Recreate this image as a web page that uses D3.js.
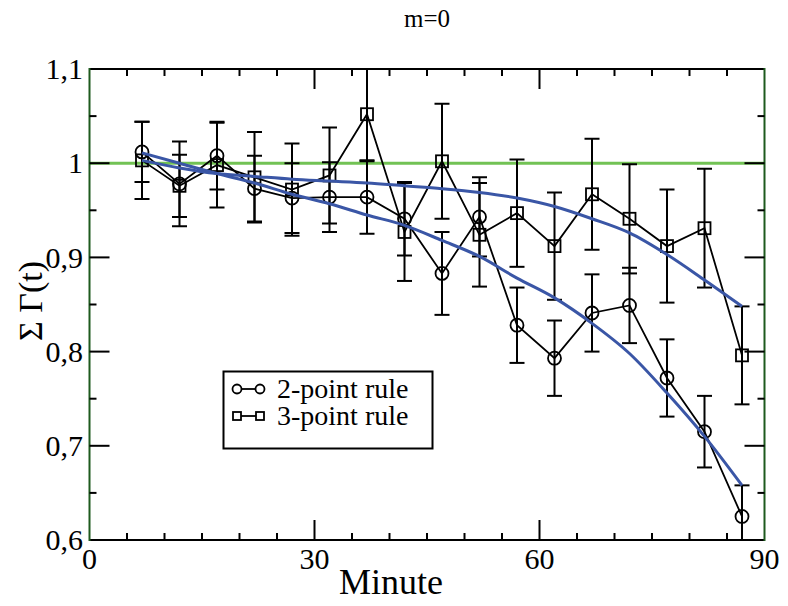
<!DOCTYPE html>
<html>
<head>
<meta charset="utf-8">
<script src="https://cdn.jsdelivr.net/npm/d3@7"></script>
<style>
	body { margin: 0; background: #fff; }
</style>
</head>
<body>
<div id="chart"></div>
<script>
const minutes = [7, 12, 17, 22, 27, 32, 37, 42, 47, 52, 57, 62, 67, 72, 77, 82, 87];

const rule2 = [1.012, 0.978, 1.008, 0.973, 0.963, 0.964, 0.964, 0.941, 0.883, 0.943, 0.828, 0.793, 0.841, 0.849, 0.772, 0.715, 0.625];
const err2 = [0.032, 0.045, 0.036, 0.035, 0.037, 0.037, 0.039, 0.039, 0.044, 0.042, 0.040, 0.040, 0.041, 0.040, 0.041, 0.038, 0.033];

const rule3 = [1.003, 0.976, 0.998, 0.985, 0.972, 0.987, 1.052, 0.927, 1.002, 0.924, 0.947, 0.912, 0.967, 0.941, 0.912, 0.931, 0.796];
const err3 = [0.041, 0.033, 0.045, 0.048, 0.049, 0.051, 0.050, 0.052, 0.061, 0.055, 0.057, 0.057, 0.059, 0.058, 0.060, 0.063, 0.052];

// fitted curves (blue)
const fit2 = [1.011, 1.000, 0.989, 0.979, 0.967, 0.957, 0.945, 0.934, 0.918, 0.901, 0.878, 0.857, 0.830, 0.798, 0.756, 0.710, 0.658];
const fit3 = [1.003, 0.995, 0.989, 0.986, 0.983, 0.981, 0.979, 0.976, 0.973, 0.969, 0.963, 0.954, 0.941, 0.926, 0.903, 0.876, 0.848];

const refLine = [1, 1];
const refX = [0, 90];

const xTicks = [0, 30, 60, 90];
const xTickLabels = ["0", "30", "60", "90"];
const yTicks = [0.6, 0.7, 0.8, 0.9, 1.0, 1.1];
const yTickLabels = ["0,6", "0,7", "0,8", "0,9", "1", "1,1"];

const legendLabels = ["2-point rule", "3-point rule"];

const W = 788, H = 606;
const pL = 89.5, pR = 764.5, pT = 69, pB = 540;
const serif = "'Liberation Serif', 'Times New Roman', Tinos, 'DejaVu Serif', serif";

const svg = d3.select("#chart").append("svg")
	.attr("width", W)
	.attr("height", H)
	.attr("font-family", serif)

const x = d3.scaleLinear().domain([0, 90]).range([pL, pR]);
const y = d3.scaleLinear().domain([0.6, 1.1]).range([pB, pT]);

svg.append("clipPath").attr("id", "plot-clip")
	.append("rect")
	.attr("x", pL).attr("y", pT)
	.attr("width", pR - pL).attr("height", pB - pT)

const plot = svg.append("g").attr("clip-path", "url(#plot-clip)");

// green reference line at 1
plot.append("path")
	.datum(refX.map((d, i) => [d, refLine[i]]))
	.attr("d", d3.line().x(d => x(d[0])).y(d => y(d[1])))
	.attr("stroke", "#72c254")
	.attr("stroke-width", 3)
	.attr("fill", "none")

function drawSeries(vals, errs, shape) {
	const pts = minutes.map((m, i) => ({ m: m, v: vals[i], e: errs[i] }));

	const bars = plot.append("g")
	bars.selectAll("line.bar")
		.data(pts).enter().append("line")
		.attr("class", "bar")
		.attr("x1", d => x(d.m)).attr("x2", d => x(d.m))
		.attr("y1", d => y(d.v + d.e)).attr("y2", d => y(d.v - d.e))
		.attr("stroke", "#000").attr("stroke-width", 2)
	const caps = [];
	pts.forEach(d => { caps.push({ m: d.m, v: d.v + d.e }); caps.push({ m: d.m, v: d.v - d.e }); });
	bars.selectAll("line.cap")
		.data(caps).enter().append("line")
		.attr("class", "cap")
		.attr("x1", d => x(d.m) - 7.5).attr("x2", d => x(d.m) + 7.5)
		.attr("y1", d => y(d.v)).attr("y2", d => y(d.v))
		.attr("stroke", "#000").attr("stroke-width", 2)

	plot.append("path")
		.datum(pts)
		.attr("d", d3.line().x(d => x(d.m)).y(d => y(d.v)))
		.attr("stroke", "#000").attr("stroke-width", 1.8)
		.attr("fill", "none")

	if (shape === "circle") {
		plot.selectAll(null)
			.data(pts).enter().append("circle")
			.attr("cx", d => x(d.m)).attr("cy", d => y(d.v))
			.attr("r", 6.5)
			.attr("fill", "none").attr("stroke", "#000").attr("stroke-width", 1.8)
	} else {
		plot.selectAll(null)
			.data(pts).enter().append("rect")
			.attr("x", d => x(d.m) - 6).attr("y", d => y(d.v) - 6)
			.attr("width", 12).attr("height", 12)
			.attr("fill", "none").attr("stroke", "#000").attr("stroke-width", 1.8)
	}
}

drawSeries(rule3, err3, "square");
drawSeries(rule2, err2, "circle");

// fits
const fitLine = d3.line().curve(d3.curveMonotoneX).x((d, i) => x(minutes[i])).y(d => y(d));
[fit2, fit3].forEach(f => {
	plot.append("path")
		.datum(f)
		.attr("d", fitLine)
		.attr("stroke", "#3a56a6")
		.attr("stroke-width", 3)
		.attr("fill", "none")
})

// frame: top/bottom black, left/right dark green
svg.append("line").attr("x1", pL).attr("x2", pR).attr("y1", pT).attr("y2", pT)
	.attr("stroke", "#000").attr("stroke-width", 2)
svg.append("line").attr("x1", pL).attr("x2", pR).attr("y1", pB).attr("y2", pB)
	.attr("stroke", "#000").attr("stroke-width", 2)
svg.append("line").attr("x1", pL).attr("x2", pL).attr("y1", pT - 1).attr("y2", pB + 1)
	.attr("stroke", "#1e5a1e").attr("stroke-width", 2)
svg.append("line").attr("x1", pR).attr("x2", pR).attr("y1", pT - 1).attr("y2", pB + 1)
	.attr("stroke", "#1e5a1e").attr("stroke-width", 2)

// ticks (inward, mirrored)
const xMinor = d3.range(0, 91, 5).filter(v => !xTicks.includes(v));
const yMinor = d3.range(0.65, 1.1, 0.1);

const tickG = svg.append("g").attr("stroke", "#000").attr("stroke-width", 2)
function xTick(vals, len) {
	tickG.selectAll(null).data(vals).enter().append("line")
		.attr("x1", d => x(d)).attr("x2", d => x(d))
		.attr("y1", pB).attr("y2", pB - len)
	tickG.selectAll(null).data(vals).enter().append("line")
		.attr("x1", d => x(d)).attr("x2", d => x(d))
		.attr("y1", pT).attr("y2", pT + len)
}
function yTick(vals, len) {
	tickG.selectAll(null).data(vals).enter().append("line")
		.attr("x1", pL).attr("x2", pL + len)
		.attr("y1", d => y(d)).attr("y2", d => y(d))
	tickG.selectAll(null).data(vals).enter().append("line")
		.attr("x1", pR).attr("x2", pR - len)
		.attr("y1", d => y(d)).attr("y2", d => y(d))
}
xTick(xTicks.slice(1, -1), 20)
xTick(xMinor, 7)
yTick(yTicks.slice(1, -1), 20)
yTick(yMinor, 7)

// tick labels
svg.selectAll("text.xlab")
	.data(xTicks).enter().append("text")
	.attr("class", "xlab")
	.attr("x", d => x(d)).attr("y", 569)
	.attr("text-anchor", "middle")
	.attr("font-family", serif)
	.attr("font-size", 30)
	.text((d, i) => xTickLabels[i])

svg.selectAll("text.ylab")
	.data(yTicks).enter().append("text")
	.attr("class", "ylab")
	.attr("x", 83).attr("y", d => y(d))
	.attr("dy", "0.34em")
	.attr("text-anchor", "end")
	.attr("font-family", serif)
	.attr("font-size", 30)
	.text((d, i) => yTickLabels[i])

// titles
svg.append("text")
	.attr("x", (pL + pR) / 2).attr("y", 27)
	.attr("text-anchor", "middle")
	.attr("font-family", serif)
	.attr("font-size", 25)
	.text("m=0")

svg.append("text")
	.attr("x", 391).attr("y", 594)
	.attr("text-anchor", "middle")
	.attr("font-family", serif)
	.attr("font-size", 36)
	.text("Minute")

svg.append("text")
	.attr("transform", "translate(42,301) rotate(-90)")
	.attr("text-anchor", "middle")
	.attr("font-family", serif)
	.attr("font-size", 34)
	.text("Σ Γ(t)")

// legend
const lg = svg.append("g")
lg.append("rect")
	.attr("x", 223.5).attr("y", 371.5)
	.attr("width", 209).attr("height", 77)
	.attr("fill", "#fff").attr("stroke", "#000").attr("stroke-width", 2)

legendLabels.forEach((label, i) => {
	const cy = 389 + i * 27;
	lg.append("line")
		.attr("x1", 237).attr("x2", 260).attr("y1", cy).attr("y2", cy)
		.attr("stroke", "#000").attr("stroke-width", 1.8)
	;[237, 260].forEach(cx => {
		if (i === 0) {
			lg.append("circle").attr("cx", cx).attr("cy", cy).attr("r", 4.5)
				.attr("fill", "#fff").attr("stroke", "#000").attr("stroke-width", 1.8)
		} else {
			lg.append("rect").attr("x", cx - 4).attr("y", cy - 4).attr("width", 8).attr("height", 8)
				.attr("fill", "#fff").attr("stroke", "#000").attr("stroke-width", 1.8)
		}
	})
	lg.append("text")
		.attr("x", 277).attr("y", cy + 9)
		.attr("font-family", serif)
		.attr("font-size", 28)
		.text(label)
})
</script>
</body>
</html>
